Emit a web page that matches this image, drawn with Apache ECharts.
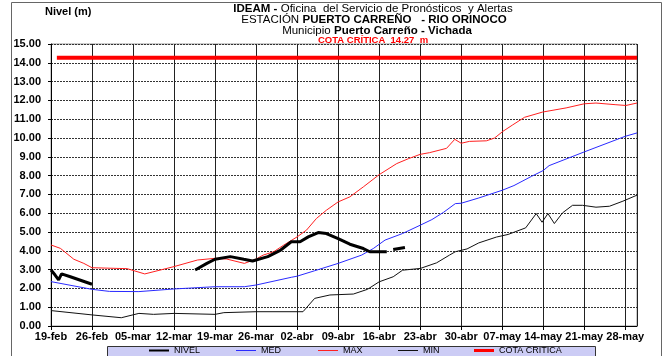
<!DOCTYPE html>
<html>
<head>
<meta charset="utf-8">
<script src="https://cdn.jsdelivr.net/npm/echarts@6/dist/echarts.min.js"></script>
<style>
  html, body { margin: 0; padding: 0; background: #fff; }
  #chart { width: 666px; height: 356px; }
</style>
</head>
<body>
<div id="chart"></div>
<script>
// days counted from 19-feb
var tickLabels = ['19-feb', '26-feb', '05-mar', '12-mar', '19-mar', '26-mar', '02-abr', '09-abr',
  '16-abr', '23-abr', '30-abr', '07-may', '14-may', '21-may', '28-may'];

var nivelDays = [0, 0.7, 1.3, 1.8, 3.3, 7, 7.5, 24.6, 26.6, 28, 30.6, 32.9, 34.4, 37, 39.2, 41, 42.5,
  43.9, 45.6, 47, 49, 51, 53.3, 54.4, 57.3, 57.8, 58.4, 60.4];
var nivelVals = [2.98, 2.71, 2.45, 2.77, 2.62, 2.22, null, 2.98, 3.33, 3.55, 3.69, 3.55, 3.46, 3.69, 4.04, 4.48, 4.48,
  4.74, 4.97, 4.92, 4.65, 4.35, 4.12, 3.95, 3.95, null, 4.07, 4.18];

var medDays = [0, 7, 10, 15, 21, 28, 33, 35, 41, 42, 45, 49, 53, 55, 57, 60, 63, 65, 67, 69, 70, 73,
  77, 79, 82, 84, 85, 91, 98, 100];
var medVals = [2.36, 1.95, 1.84, 1.83, 1.97, 2.09, 2.09, 2.18, 2.59, 2.65, 2.94, 3.33, 3.77, 4.12, 4.57, 4.92, 5.36, 5.66,
  6.05, 6.51, 6.53, 6.81, 7.22, 7.47, 7.96, 8.27, 8.53, 9.26, 10.09, 10.27];

var maxDays = [0, 1.6, 3.9, 5.6, 7, 13, 16, 21, 25, 28, 30, 33, 35, 36.2, 38, 39.7, 42, 43.6, 45.3, 47,
  49, 51, 53.3, 56, 59, 61, 63, 64.6, 67.5, 68.9, 70, 71.4, 74.3, 75.7, 77.1, 78.8, 80.8, 83.9,
  87.9, 91, 93, 96.4, 98.1, 100];
var maxVals = [4.31, 4.13, 3.55, 3.33, 3.10, 3.05, 2.77, 3.16, 3.51, 3.60, 3.56, 3.33, 3.56, 3.77, 3.95, 4.30,
  4.74, 5.10, 5.72, 6.16, 6.60, 6.87, 7.40, 8.05, 8.64, 8.90, 9.13, 9.22, 9.45, 9.93, 9.72, 9.82, 9.85,
  10.0, 10.35, 10.70, 11.10, 11.38, 11.60, 11.82, 11.86, 11.77, 11.73, 11.86];

var minDays = [0, 7, 12, 15, 17.5, 21, 28, 29.5, 35, 43, 45, 47.6, 51.6, 54, 56, 58.4, 60, 63, 65.8,
  68, 69, 71, 73, 76, 78, 81, 82.8, 83.8, 84.8, 85.9, 87.3, 89, 90.7, 93, 95.3, 97.6, 100];
var minVals = [0.82, 0.59, 0.44, 0.67, 0.62, 0.67, 0.62, 0.71, 0.76, 0.76, 1.47, 1.65, 1.70, 1.95, 2.35, 2.62,
  2.97, 3.06, 3.36, 3.77, 3.95, 4.10, 4.42, 4.73, 4.87, 5.22, 5.98, 5.52, 5.98, 5.45, 6.02, 6.42, 6.42,
  6.32, 6.37, 6.64, 6.96];

var cotaDays = [1, 100];
var cotaCritica = 14.27;

var legendNames = ['NIVEL', 'MED', 'MAX', 'MIN', 'COTA CRITICA'];

function pairs(days, vals) {
  return days.map(function (d, i) {
    return [d, vals[i] === null ? '-' : vals[i]];
  });
}

// legend icons: invisible corner moves keep the box 20x8, the bar sets the thickness
var thinIcon = 'path://M0,0M20,8M0,3.5H20V4.5H0Z';
var thickIcon = 'path://M0,0M20,8M0,3H20V5H0Z';
var cotaIcon = 'path://M0,0M20,8M0,2.5H20V5.5H0Z';
var legendIcons = [thickIcon, thinIcon, thinIcon, thinIcon, cotaIcon];
var legendLeft = [149, 236, 318, 398, 474];

var chart = echarts.init(document.getElementById('chart'));
var FONT = 'Liberation Sans, Arial, sans-serif';

var legends = legendNames.map(function (name, i) {
  return {
    left: legendLeft[i], top: 346, padding: 0, z: 10,
    itemWidth: 20, itemHeight: 8,
    itemStyle: { borderWidth: 0 },
    textStyle: { fontSize: 9, color: '#000', fontFamily: FONT },
    data: [{ name: name, icon: legendIcons[i] }]
  };
});

var option = {
  animation: false,
  backgroundColor: '#fff',
  textStyle: { fontFamily: FONT },
  grid: {
    left: 51, right: 29, top: 44, bottom: 30,
    show: true, borderColor: '#999', borderWidth: 1
  },
  graphic: [
    {
      type: 'rect', silent: true, z: -10,
      shape: { x: 11.5, y: 2.5, width: 650, height: 380 },
      style: { fill: 'none', stroke: '#666', lineWidth: 1 }
    },
    {
      type: 'rect', silent: true, z: 1,
      shape: { x: 107.5, y: 346.5, width: 488, height: 14 },
      style: { fill: '#ccccf5', stroke: '#333', lineWidth: 1 }
    },
    {
      type: 'text', x: 45, y: 6,
      style: { text: 'Nivel (m)', font: 'bold 11px ' + FONT, fill: '#000' }
    },
    {
      type: 'text', x: 373, y: 3,
      style: {
        text: '{b|IDEAM -} {n|Oficina  del Servicio de Pronósticos  y Alertas}',
        align: 'center',
        rich: {
          b: { font: 'bold 11.5px ' + FONT, fill: '#000' },
          n: { font: '11.5px ' + FONT, fill: '#000' }
        }
      }
    },
    {
      type: 'text', x: 374, y: 14,
      style: {
        text: '{n|ESTACIÓN} {b|PUERTO CARREÑO   - RIO ORINOCO}',
        align: 'center',
        rich: {
          b: { font: 'bold 11.5px ' + FONT, fill: '#000' },
          n: { font: '11.5px ' + FONT, fill: '#000' }
        }
      }
    },
    {
      type: 'text', x: 377, y: 25,
      style: {
        text: '{n|Municipio} {b|Puerto Carreño - Vichada}',
        align: 'center',
        rich: {
          b: { font: 'bold 11.5px ' + FONT, fill: '#000' },
          n: { font: '11.5px ' + FONT, fill: '#000' }
        }
      }
    },
    {
      type: 'text', x: 373, y: 35,
      style: { text: 'COTA CRÍTICA  14.27  m', align: 'center', font: 'bold 9.5px ' + FONT, fill: '#ff0000' }
    }
  ],
  legend: legends,
  xAxis: {
    type: 'value',
    min: 0, max: 100, interval: 7,
    axisLine: { show: true, lineStyle: { color: '#000', width: 1 } },
    axisTick: { show: true, length: 4, lineStyle: { color: '#000' } },
    axisLabel: {
      color: '#000', fontWeight: 'bold', fontSize: 11, margin: 5, showMaxLabel: false,
      formatter: function (v) { var k = Math.round(v / 7); return (v % 7 === 0 && tickLabels[k]) ? tickLabels[k] : ''; }
    },
    splitLine: { show: true, lineStyle: { color: '#222', width: 1 } }
  },
  yAxis: {
    type: 'value',
    min: 0, max: 15, interval: 1,
    axisLine: { show: true, lineStyle: { color: '#000', width: 1 } },
    axisTick: { show: true, length: 3, lineStyle: { color: '#000' } },
    axisLabel: {
      color: '#000', fontWeight: 'bold', fontSize: 11, margin: 10,
      formatter: function (v) { return v.toFixed(2); }
    },
    splitLine: { show: true, lineStyle: { color: '#333', width: 1, type: [2, 1] } }
  },
  series: [
    {
      name: 'NIVEL', type: 'line', symbol: 'none', z: 6,
      data: pairs(nivelDays, nivelVals),
      lineStyle: { color: '#000', width: 3 },
      itemStyle: { color: '#000' }
    },
    {
      name: 'MED', type: 'line', symbol: 'none', z: 3,
      data: pairs(medDays, medVals),
      lineStyle: { color: '#2a2aff', width: 1 },
      itemStyle: { color: '#2a2aff' }
    },
    {
      name: 'MAX', type: 'line', symbol: 'none', z: 4,
      data: pairs(maxDays, maxVals),
      lineStyle: { color: '#ff2020', width: 1 },
      itemStyle: { color: '#ff2020' }
    },
    {
      name: 'MIN', type: 'line', symbol: 'none', z: 3,
      data: pairs(minDays, minVals),
      lineStyle: { color: '#111', width: 1 },
      itemStyle: { color: '#111' }
    },
    {
      name: 'COTA CRITICA', type: 'line', symbol: 'none', z: 5,
      data: cotaDays.map(function (d) { return [d, cotaCritica]; }),
      lineStyle: { color: '#ff0000', width: 4 },
      itemStyle: { color: '#ff0000' }
    }
  ]
};

chart.setOption(option);
</script>
</body>
</html>
